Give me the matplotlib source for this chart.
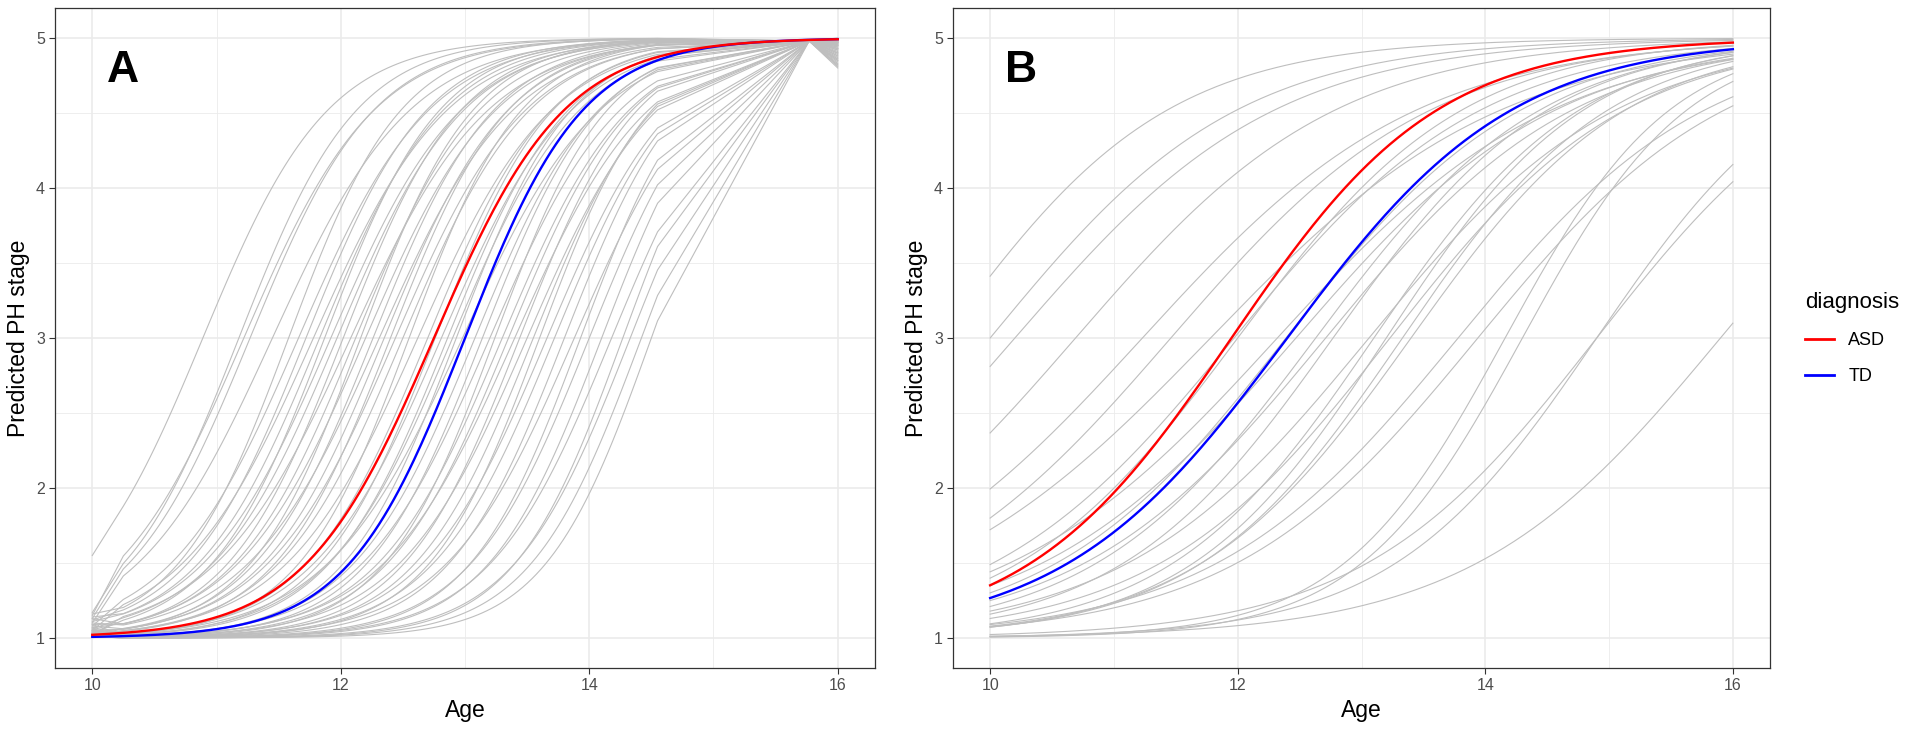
import numpy as np
import matplotlib.pyplot as plt
from matplotlib.lines import Line2D

plt.rcParams['font.family'] = ['Liberation Sans', 'DejaVu Sans']

diagnosis = ['ASD', 'TD']

# ---- panel A: individual predicted trajectories (logistic midpoint age, rate)
a_mid = [10.89, 11.18, 11.22, 11.27, 11.45, 11.58, 11.66, 11.72, 11.78, 11.83,
         11.87, 11.92, 11.97, 12.02, 12.08, 12.12, 12.16, 12.20, 12.26, 12.31,
         12.35, 12.40, 12.44, 12.50, 12.55, 12.62, 12.70, 12.76, 12.81, 12.86,
         12.90, 12.93, 12.98, 13.08, 13.14, 13.20, 13.24, 13.30, 13.35, 13.40,
         13.44, 13.50, 13.55, 13.60, 13.66, 13.72, 13.80, 13.88, 13.93, 14.00,
         14.10, 14.18, 14.27, 14.33, 14.42, 14.50]
a_rate = [1.98, 2.10, 1.90, 2.00, 1.80, 2.20, 1.90, 2.05, 1.85, 2.00,
          2.15, 1.90, 1.95, 2.10, 1.80, 2.00, 2.20, 1.90, 2.05, 1.85,
          2.00, 2.10, 1.90, 1.95, 2.20, 1.85, 2.00, 2.10, 1.90, 2.05,
          1.95, 2.15, 1.80, 2.00, 2.10, 1.90, 2.20, 1.95, 2.00, 1.85,
          2.10, 1.90, 2.05, 2.20, 1.95, 2.00, 2.10, 1.90, 2.20, 2.05,
          2.15, 2.00, 2.25, 2.10, 2.20, 2.30]
# value at age 10 and at age 16 (the fans at both ends)
a_start = [1.55, 1.17, 1.15, 1.13, 1.10, 1.16, 1.08, 1.12, 1.05, 1.14,
           1.03, 1.11, 1.06, 1.09, 1.02, 1.13, 1.04, 1.07, 1.01, 1.10,
           1.05, 1.03, 1.08, 1.02, 1.06, 1.01, 1.04, 1.09, 1.02, 1.03,
           1.05, 1.01, 1.07, 1.02, 1.04, 1.01, 1.03, 1.06, 1.02, 1.01,
           1.04, 1.02, 1.01, 1.03, 1.05, 1.01, 1.02, 1.04, 1.01, 1.02,
           1.01, 1.03, 1.01, 1.02, 1.01, 1.01]
a_end = [5.00, 4.99, 4.98, 4.96, 4.99, 4.95, 4.93, 4.98, 4.97, 4.90,
         4.99, 4.88, 4.96, 4.85, 4.98, 4.92, 4.82, 4.97, 4.95, 4.80,
         4.99, 4.90, 4.97, 4.86, 4.94, 4.99, 4.83, 4.96, 4.91, 4.98,
         4.88, 4.97, 4.81, 4.95, 4.99, 4.87, 4.93, 4.98, 4.84, 4.96,
         4.90, 4.99, 4.82, 4.95, 4.97, 4.89, 4.98, 4.86, 4.94, 4.99,
         4.92, 4.97, 4.85, 4.96, 4.98, 4.93]
a_knots = [10.0, 10.25, 14.55, 15.77, 16.0]   # ages where the A lines kink
a_peak = 4.98                                  # all A lines meet here at 15.77
a_mean_mid = [12.75, 13.0]
a_mean_rate = [1.9, 2.1]

# ---- panel B
b_mid = [9.62, 10.0, 10.2, 10.69, 11.23, 11.46, 11.78, 11.97, 12.32, 12.0,
         12.47, 12.39, 12.71, 12.63, 13.06, 12.77, 13.1, 13.23, 13.2, 13.4,
         13.33, 13.78, 13.94, 14.16, 14.30, 14.90, 14.90, 15.90]
b_rate = [1.10, 1.00, 0.95, 0.95, 0.90, 0.95, 0.85, 1.00, 0.90, 1.10,
          0.95, 1.05, 1.00, 1.10, 1.00, 1.15, 1.20, 1.05, 1.25, 1.15,
          1.20, 1.00, 1.00, 1.50, 1.50, 1.05, 1.20, 0.99]
b_mean_mid = [11.95, 12.4]
b_mean_rate = [1.2, 1.1]


def stage(age, mid, rate):
    return 1 + 4 / (1 + np.exp(-rate * (np.asarray(age) - mid)))


fig = plt.figure(figsize=(19.05, 7.29), dpi=100)
W, H = 1905, 729
ax_a = fig.add_axes([55 / W, 1 - 668 / H, 820 / W, 660 / H])
ax_b = fig.add_axes([953 / W, 1 - 668 / H, 817 / W, 660 / H])

gray = '#BEBEBE'
colors = ['#FF0000', '#0000FF']
fine = np.linspace(10, 16, 300)

# panel A lines
inner = np.linspace(a_knots[1], a_knots[2], 120)
ages_a = np.concatenate([[a_knots[0]], inner, a_knots[3:]])
for m, k, s, e in zip(a_mid, a_rate, a_start, a_end):
    y = np.concatenate([[s], stage(inner, m, k), [a_peak, e]])
    ax_a.plot(ages_a, y, color=gray, lw=0.8, zorder=2)

# panel B lines
for m, k in zip(b_mid, b_rate):
    ax_b.plot(fine, stage(fine, m, k), color=gray, lw=0.8, zorder=2)

for ax, mids, rates in [(ax_a, a_mean_mid, a_mean_rate), (ax_b, b_mean_mid, b_mean_rate)]:
    for i in [1, 0]:
        ax.plot(fine, stage(fine, mids[i], rates[i]), color=colors[i], lw=1.7, zorder=3)

for ax, letter in [(ax_a, 'A'), (ax_b, 'B')]:
    ax.set_xlim(9.7, 16.3)
    ax.set_ylim(0.8, 5.2)
    ax.set_xticks([10, 12, 14, 16])
    ax.set_xticks([11, 13, 15], minor=True)
    ax.set_yticks([1, 2, 3, 4, 5])
    ax.set_yticks([1.5, 2.5, 3.5, 4.5], minor=True)
    ax.grid(which='major', color='#EBEBEB', lw=1.2, zorder=0)
    ax.grid(which='minor', color='#EBEBEB', lw=0.6, zorder=0)
    ax.set_axisbelow(True)
    ax.tick_params(which='major', direction='out', length=4.3, width=0.8,
                   color='#333333', labelcolor='#4D4D4D', labelsize=11.5)
    ax.tick_params(axis='x', pad=3.2)
    ax.tick_params(axis='y', pad=3)
    ax.tick_params(which='minor', length=0)
    for sp in ax.spines.values():
        sp.set_color('#333333')
        sp.set_linewidth(0.9)
    ax.set_xlabel('Age', fontsize=16.5)
    ax.set_ylabel('Predicted PH stage', fontsize=16.5)
    ax.xaxis.set_label_coords(0.5, -0.0465)
    ax.yaxis.set_label_coords(-0.031, 0.5)
    ax.text(10.25, 4.78, letter, fontsize=32, fontweight='bold', ha='center', va='center')

handles = [Line2D([], [], color=c, lw=2) for c in colors]
fig.legend(handles, diagnosis, title='diagnosis', loc='upper left',
           bbox_to_anchor=(1805 / W, 1 - 292 / H), frameon=False, fontsize=13,
           title_fontsize=16, handlelength=1.6, handletextpad=0.8,
           labelspacing=1.05, alignment='left', borderpad=0, borderaxespad=0)

fig.savefig('out.png', dpi=100)
